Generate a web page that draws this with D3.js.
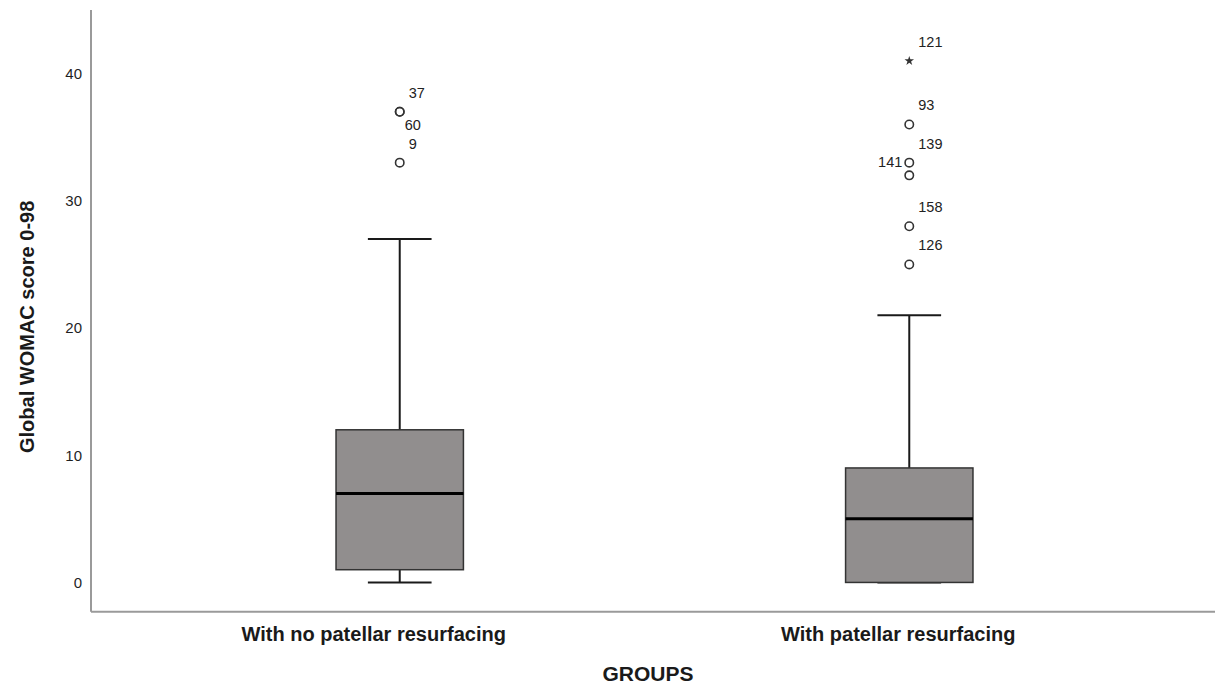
<!DOCTYPE html>
<html>
<head>
<meta charset="utf-8">
<script src="https://cdn.jsdelivr.net/npm/d3@7"></script>
<style>
  body { margin: 0; background: #fff; }
  svg { display: block; font-family: "Liberation Sans", Arial, sans-serif; }
</style>
</head>
<body>
<svg id="chart"></svg>
<script>
// data
const groups = ["With no patellar resurfacing", "With patellar resurfacing"];
const whiskerLow = [0, 0];
const q1 = [1, 0];
const medians = [7, 5];
const q3 = [12, 9];
const whiskerHigh = [27, 21];
const outlierValues = [[37, 37, 33], [36, 33, 32, 28, 25]];
const outlierIds = [["37", "60", "9"], ["93", "139", "141", "158", "126"]];
const extremeValues = [[], [41]];
const extremeIds = [[], ["121"]];
const yTicks = [0, 10, 20, 30, 40];

// label placement (SPSS moves some labels out of the way)
const labelPlacement = { "60": "below", "141": "left" };
const groupLabelShift = [-26, -11];

const W = 1215, H = 684;
const plotLeft = 91, plotRight = 1215, plotTop = 10, plotBottom = 611.7;

const svg = d3.select("#chart")
    .attr("width", W)
    .attr("height", H)
    .attr("viewBox", `0 0 ${W} ${H}`);

const x = d3.scalePoint(groups, [plotLeft + 3, plotRight]).padding(0.6);
const y = d3.scaleLinear([-2.3, 45], [plotBottom, plotTop]);
const boxW = x.step() * 0.25;

// axes: SPSS style, no tick marks
const yAxis = d3.axisLeft(y).tickValues(yTicks).tickSize(0).tickPadding(9);
const yAxisG = svg.append("g")
    .attr("transform", `translate(${plotLeft}, 0)`)
    .call(yAxis);
yAxisG.select(".domain").remove();
yAxisG.selectAll("text")
    .attr("font-size", 15)
    .attr("fill", "#1f1f1f")
    .attr("font-family", "Liberation Sans, Arial, sans-serif");

svg.append("line")
    .attr("x1", plotLeft).attr("x2", plotLeft)
    .attr("y1", plotTop).attr("y2", plotBottom)
    .attr("stroke", "#9a9a9a").attr("stroke-width", 2);
svg.append("line")
    .attr("x1", plotLeft).attr("x2", plotRight)
    .attr("y1", plotBottom).attr("y2", plotBottom)
    .attr("stroke", "#9a9a9a").attr("stroke-width", 2);

// boxes
const data = groups.map((g, i) => ({
    name: g,
    lo: whiskerLow[i], q1: q1[i], med: medians[i], q3: q3[i], hi: whiskerHigh[i],
    out: outlierValues[i].map((v, j) => ({ v, id: outlierIds[i][j] })),
    ext: extremeValues[i].map((v, j) => ({ v, id: extremeIds[i][j] })),
    shift: groupLabelShift[i]
}));

const box = svg.selectAll(".box")
    .data(data)
    .join("g")
    .attr("class", "box")
    .attr("transform", d => `translate(${x(d.name)}, 0)`);

// whiskers
box.append("line")
    .attr("x1", 0).attr("x2", 0)
    .attr("y1", d => y(d.hi)).attr("y2", d => y(d.q3))
    .attr("stroke", "#1a1a1a").attr("stroke-width", 2);
box.append("line")
    .attr("x1", 0).attr("x2", 0)
    .attr("y1", d => y(d.lo)).attr("y2", d => y(d.q1))
    .attr("stroke", "#1a1a1a").attr("stroke-width", 2);
box.append("line")
    .attr("x1", -boxW / 4).attr("x2", boxW / 4)
    .attr("y1", d => y(d.hi)).attr("y2", d => y(d.hi))
    .attr("stroke", "#1a1a1a").attr("stroke-width", 2);
box.append("line")
    .attr("x1", -boxW / 4).attr("x2", boxW / 4)
    .attr("y1", d => y(d.lo)).attr("y2", d => y(d.lo))
    .attr("stroke", "#1a1a1a").attr("stroke-width", 2);

box.append("rect")
    .attr("x", -boxW / 2)
    .attr("width", boxW)
    .attr("y", d => y(d.q3))
    .attr("height", d => y(d.q1) - y(d.q3))
    .attr("fill", "#918e8e")
    .attr("stroke", "#333")
    .attr("stroke-width", 1.5);

box.append("line")
    .attr("x1", -boxW / 2).attr("x2", boxW / 2)
    .attr("y1", d => y(d.med)).attr("y2", d => y(d.med))
    .attr("stroke", "#000").attr("stroke-width", 3);

// outliers
box.selectAll(".out")
    .data(d => d.out)
    .join("circle")
    .attr("class", "out")
    .attr("cx", 0)
    .attr("cy", d => y(d.v))
    .attr("r", 4.2)
    .attr("fill", "none")
    .attr("stroke", "#333")
    .attr("stroke-width", 1.6);

box.selectAll(".ext")
    .data(d => d.ext)
    .join("path")
    .attr("class", "ext")
    .attr("transform", d => `translate(0, ${y(d.v)})`)
    .attr("d", d3.symbol(d3.symbolStar, 28))
    .attr("fill", "#333");

function placeLabel(sel) {
    sel.attr("font-size", 14.5)
        .attr("fill", "#222")
        .text(d => d.id)
        .each(function (d) {
            const t = d3.select(this);
            const cy = y(d.v);
            const where = labelPlacement[d.id];
            if (where === "below") {
                t.attr("x", 5).attr("y", cy + 18).attr("text-anchor", "start");
            } else if (where === "left") {
                t.attr("x", -7).attr("y", cy - 8).attr("text-anchor", "end");
            } else {
                t.attr("x", 9).attr("y", cy - 14).attr("text-anchor", "start");
            }
        });
}

box.selectAll(".outLabel")
    .data(d => d.out.concat(d.ext))
    .join("text")
    .attr("class", "outLabel")
    .call(placeLabel);

// category labels
box.append("text")
    .attr("x", d => d.shift)
    .attr("y", 641)
    .attr("text-anchor", "middle")
    .attr("font-size", 20)
    .attr("font-weight", "bold")
    .attr("fill", "#1a1a1a")
    .text(d => d.name);

// axis titles
svg.append("text")
    .attr("x", 648)
    .attr("y", 681)
    .attr("text-anchor", "middle")
    .attr("font-size", 21)
    .attr("font-weight", "bold")
    .attr("fill", "#1a1a1a")
    .text("GROUPS");

svg.append("text")
    .attr("transform", `translate(34, ${(plotTop + plotBottom) / 2 + 16}) rotate(-90)`)
    .attr("text-anchor", "middle")
    .attr("font-size", 20)
    .attr("font-weight", "bold")
    .attr("fill", "#1a1a1a")
    .text("Global WOMAC score 0-98");
</script>
</body>
</html>
